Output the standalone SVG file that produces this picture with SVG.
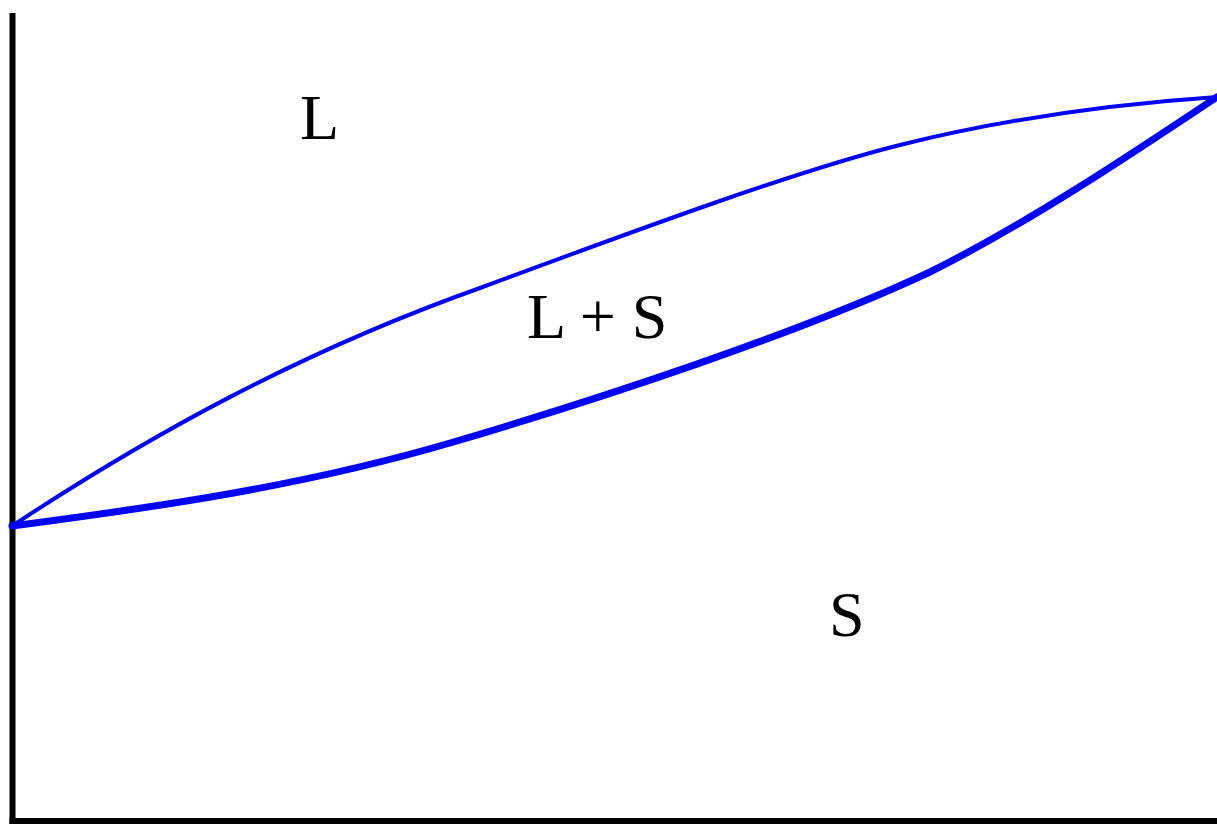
<svg xmlns="http://www.w3.org/2000/svg" width="1217" height="824" viewBox="0 0 1217 824">
<style>
.axis{stroke:#000;stroke-width:6;fill:none}
.curve{stroke:#0000ff;fill:none;stroke-linejoin:round;stroke-linecap:round}
.lbl{font-family:"Liberation Serif","Times New Roman",serif;font-size:64px;fill:#000}
</style>
<rect width="1217" height="824" fill="#fff"/>
<g id="axes">
<line class="axis" x1="12.5" y1="13" x2="12.5" y2="824"/>
<line class="axis" x1="9.5" y1="821" x2="1217" y2="821"/>
</g>
<g id="connectors">
<path id="liquidus" class="curve" stroke-width="4" d="M12,526 C150,435 300,352 480,288 C650,225 800,170 900,145 C1000,120 1100,105 1217,97"/>
<path id="solidus" class="curve" stroke-width="7" d="M12,526 C150,508 300,487 450,443 C600,399 800,333 930,272 C1030,222 1130,155 1217,97"/>
</g>
<g id="label-L"><text class="lbl" x="300" y="139">L</text></g>
<g id="label-LS"><text class="lbl" x="527" y="338">L + S</text></g>
<g id="label-S"><text class="lbl" x="829" y="636">S</text></g>
</svg>
